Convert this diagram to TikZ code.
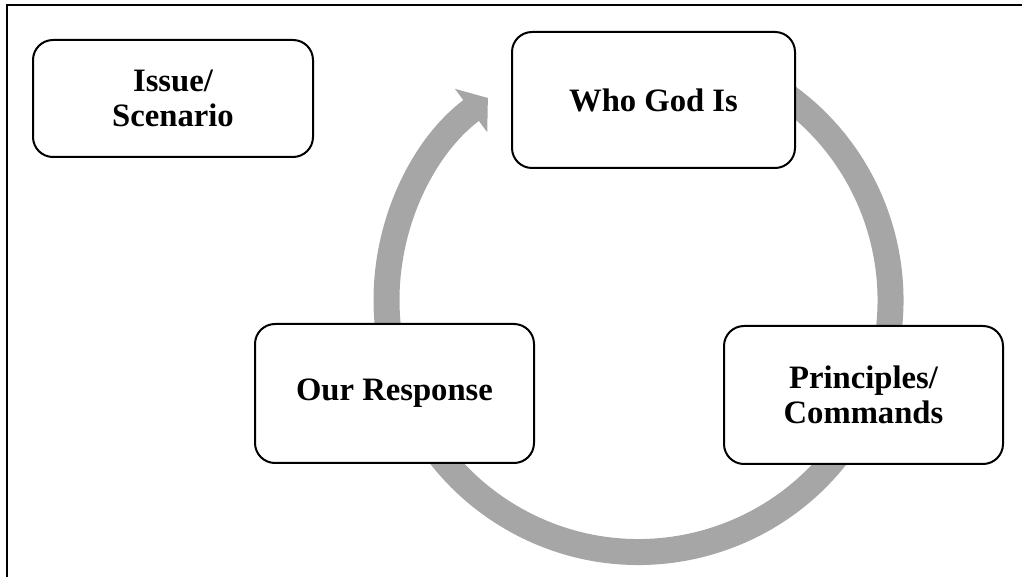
\documentclass[tikz,border=0pt]{standalone}
\usepackage{fontspec}
\setmainfont{Liberation Serif}
\usetikzlibrary{arrows.meta}
\definecolor{arcgray}{RGB}{166,166,166}
\tikzset{
  stepbox/.style={draw=black, line width=1.5pt, rounded corners=15pt, fill=white,
    align=center, inner sep=2pt,
    font=\fontsize{24.5}{26}\selectfont\bfseries},
  cyclearrow/.style={draw=arcgray, line width=19.5pt,
    -{Triangle[width=39.75pt,length=15.75pt]}},
  frameline/.style={draw=black, line width=1.5pt}
}
\begin{document}
\begin{tikzpicture}[x=0.75pt,y=-0.75pt]
\useasboundingbox (0,0) rectangle (1022,577);
% frame (top and left edges only)
\coordinate (ftr) at (1022,5);
\coordinate (ftl) at (7,5);
\coordinate (fbl) at (7,577);
\draw[frameline] (ftr) -- (ftl) -- (fbl);
% cycle arrow
\coordinate (c) at (638.5,300);
\draw[cyclearrow] ([shift={(-60:252)}]c) arc[start angle=-60, end angle=233.3, radius=252];
% boxes
\node[stepbox, minimum width=210pt, minimum height=87.75pt] (issue) at (173,98.5) {Issue/\\Scenario};
\node[stepbox, minimum width=212.25pt, minimum height=102pt] (god) at (653.5,100) {Who God Is};
\node[stepbox, minimum width=209.25pt, minimum height=103.5pt] (princ) at (863.5,395) {Principles/\\Commands};
\node[stepbox, minimum width=209.25pt, minimum height=104.25pt] (resp) at (394.5,393.5) {Our Response};
\end{tikzpicture}
\end{document}
